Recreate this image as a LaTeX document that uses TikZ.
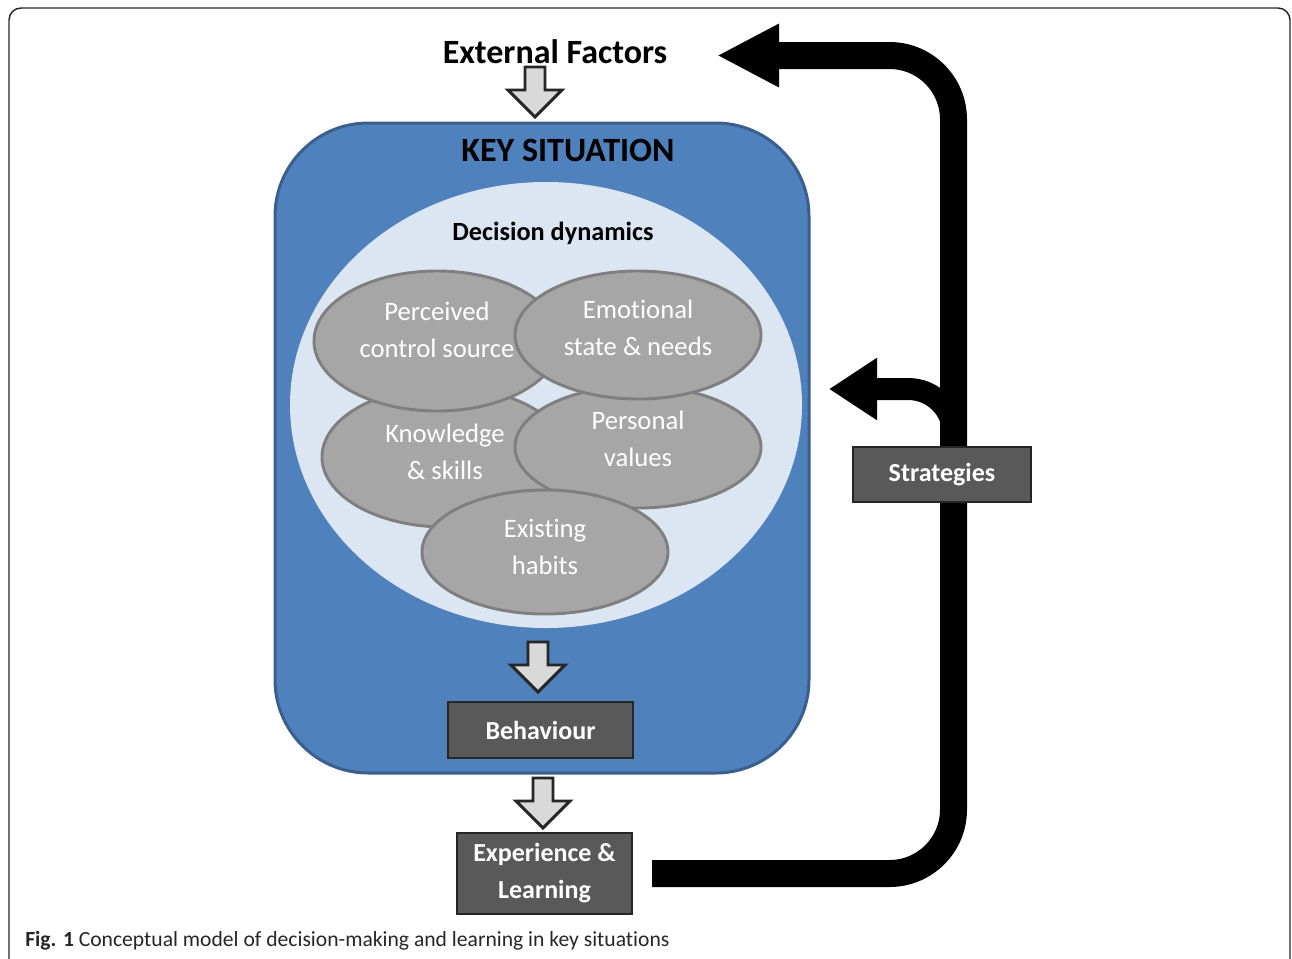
\documentclass[tikz,border=0pt]{standalone}
\usepackage{fontspec}
\setmainfont[Ligatures=NoCommon]{Carlito}
\usetikzlibrary{arrows.meta,shapes.geometric,calc}
\newcommand\nlg{\kern0pt }
\definecolor{keyblue}{HTML}{4F81BD}
\definecolor{keyborder}{HTML}{3A5F8E}
\definecolor{lightblue}{HTML}{DCE6F2}
\definecolor{ellfill}{HTML}{A6A6A6}
\definecolor{ellline}{HTML}{7F7F7F}
\definecolor{boxfill}{HTML}{595959}
\definecolor{boxline}{HTML}{262626}
\definecolor{arrfill}{HTML}{D9D9D9}
\tikzset{
  frame/.style={draw=black!85, line width=1.1pt, rounded corners=9pt},
  keybox/.style={draw=keyborder, fill=keyblue, line width=2.25pt, rounded corners=70pt,
     minimum width=400.5pt, minimum height=487.5pt, inner sep=0pt},
  dyn/.style={fill=lightblue, ellipse, inner sep=0pt, minimum width=384pt, minimum height=334.5pt},
  factor/.style={ellipse, draw=ellline, fill=ellfill, line width=2.2pt, inner sep=0pt, minimum width=184.5pt},
  ftext/.style={text=white, align=center, font=\fontsize{20}{27.75}\selectfont, inner sep=0pt},
  darkbox/.style={draw=boxline, fill=boxfill, line width=1.1pt, text=white, align=center,
     font=\bfseries\fontsize{19.5}{27.75}\selectfont, inner sep=0pt},
  title/.style={font=\bfseries\fontsize{25.5}{30}\selectfont, inner sep=0pt},
  blockarrow/.style={draw=boxline, fill=arrfill, line width=2.2pt, line join=miter},
  bigarrow/.style={draw=black, line width=20.25pt, rounded corners=48pt,
     -{Triangle[length=46.5pt, width=44.25pt]}},
  branch/.style={draw=black, line width=16.5pt, rounded corners=34pt,
     -{Triangle[length=36pt, width=44.25pt]}},
  blockdown/.pic={\path[blockarrow] (-10,0) -- (10,0) -- (10,23) -- (27,23) -- (0,50) -- (-27,23) -- (-10,23) -- cycle;}
}
\begin{document}
\begin{tikzpicture}[x=0.75pt, y=-0.75pt]
\useasboundingbox (0,0) rectangle (1292,958);
\begin{scope}
\clip (0,0) rectangle (1292,958);
\draw[frame] (9,8) rectangle (1290,985);
\end{scope}

% key situation box
\node[keybox] (ks) at (542,448) {};
\node[dyn] (dd) at (546,405) {};
\node[title] (kst) at (568,150) {KEY SITUATION};
\node[inner sep=0pt, font=\bfseries\fontsize{19.7}{22}\selectfont] (ddt) at (553,233) {Decision dynamics};

% factors
\node[factor, minimum height=105pt] (know) at (445,457) {};
\node[factor, minimum height=91.5pt] (pers) at (638,447) {};
\node[factor, minimum height=105pt] (perc) at (437,341) {};
\node[factor, minimum height=96pt] (emo) at (638,335) {};
\node[factor, minimum height=93pt] (hab) at (545,552) {};
\node[ftext] (knowt) at (445,452) {Knowledge\\\& skills};
\node[ftext] (perst) at (638,439) {Personal\\values};
\node[ftext] (perct) at (437,329.5) {Perceived\\control source};
\node[ftext] (emot) at (638,328) {Emot\nlg ional\\state \& needs};
\node[ftext] (habt) at (545,547) {Exist\nlg ing\\habits};

% external factors
\node[title] (ext) at (555,52) {External Factors};
\pic at (535,67) {blockdown};

% behaviour and experience
\pic at (538,642) {blockdown};
\node[darkbox, minimum width=138.75pt, minimum height=42pt] (beh) at (540.5,730) {Behaviour};
\pic at (543,778) {blockdown};
\node[darkbox, minimum width=131.25pt, minimum height=60.75pt] (exp) at (544.5,873.5) {Experience \&\\Learning};

% feedback loop
\coordinate (fbstart) at (652,873.5);
\coordinate (fbend) at (717,55.5);
\coordinate (brstart) at (953.5,474);
\coordinate (brend) at (829,389);
\draw[bigarrow] (fbstart) -- (953.5,873.5) -- (953.5,55.5) -- (fbend);
\draw[branch] (brstart) -- (953.5,389) -- (brend);
\node[darkbox, minimum width=133.5pt, minimum height=41.25pt] (str) at (942,474.5) {Strategies};

% caption
\node[anchor=base west, inner sep=0pt, font=\fontsize{16.2}{19}\selectfont, text=black!85] (cap) at (25,946)
  {\textbf{Fig. 1} Conceptual model of decision-making and learning in key situat\nlg ions};
\end{tikzpicture}
\end{document}
